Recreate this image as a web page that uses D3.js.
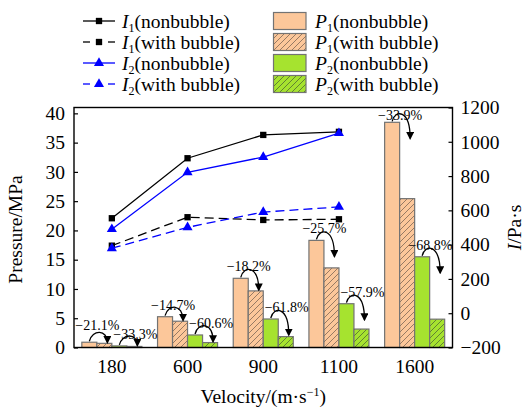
<!DOCTYPE html>
<html>
<head>
<meta charset="utf-8">
<script src="https://cdn.jsdelivr.net/npm/d3@7"></script>
<style>
  html, body { margin: 0; padding: 0; background: #fff; }
  svg { display: block; }
  svg text { font-family: "Liberation Serif", "Tinos", "Times New Roman", "DejaVu Serif", serif; fill: #000; }
</style>
</head>
<body>
<svg id="chart" width="532" height="411"></svg>
<script>
// Velocities (m/s) on the x axis
const categories = ["180", "600", "900", "1100", "1600"];

// Peak pressure P (MPa), left axis
const p1Non = [0.90, 5.26, 11.82, 18.3, 38.47];
const p1Bub = [0.71, 4.49, 9.67, 13.6, 25.43];
const p2Non = [0.27, 2.14, 4.87, 7.48, 15.5];
const p2Bub = [0.18, 0.84, 1.86, 3.15, 4.84];

// Relative change of pressure with bubble curtain (%)
const p1Change = [-21.1, -14.7, -18.2, -25.7, -33.9];
const p2Change = [-33.3, -60.6, -61.8, -57.9, -68.8];

// Impulse I (Pa·s), right axis — measured at the first four velocities
const lineCategories = ["180", "600", "900", "1100"];
const i1Non = [554, 904, 1040, 1058];
const i1Bub = [394, 560, 544, 548];
const i2Non = [490, 822, 911, 1050];
const i2Bub = [379, 501, 590, 620];

// Tick values
const pressureTicks = [0, 5, 10, 15, 20, 25, 30, 35, 40];
const impulseTicks = [-200, 0, 200, 400, 600, 800, 1000, 1200];

const SERIF = "'Liberation Serif', 'Tinos', 'Times New Roman', 'DejaVu Serif', serif";
const svg = d3.select("#chart");
const FONT = 19.5;
const plot = { left: 74, right: 452.5, top: 107.5, bottom: 347.5 };

const ORANGE = "#FCC79A", GREEN = "#A6E32F", BAR_STROKE = "#737373";

const x0 = d3.scaleBand().domain(categories)
  .range([plot.left, plot.right]).paddingInner(0.207).paddingOuter(0.1035);
const barKeys = ["p1n", "p1b", "p2n", "p2b"];
const x1 = d3.scaleBand().domain(barKeys).range([0, x0.bandwidth()]);
const yP = d3.scaleLinear().domain([0, 41]).range([plot.bottom, plot.top]);
const yI = d3.scaleLinear().domain([-200, 1200]).range([plot.bottom, plot.top]);

// ---- defs: hatch patterns and arrow head
const defs = svg.append("defs");
function hatch(id, bg, lineColor) {
  const p = defs.append("pattern").attr("id", id)
    .attr("patternUnits", "userSpaceOnUse").attr("width", 6).attr("height", 6);
  p.append("rect").attr("width", 6).attr("height", 6).attr("fill", bg);
  p.append("path").attr("d", "M0,6 L6,0 M-1.5,1.5 L1.5,-1.5 M4.5,7.5 L7.5,4.5")
    .attr("stroke", lineColor).attr("stroke-width", 0.8);
}
hatch("hatchOrange", ORANGE, "#7d6656");
hatch("hatchGreen", GREEN, "#4f6a32");
defs.append("marker").attr("id", "arrowHead")
  .attr("viewBox", "0 0 10 10").attr("refX", 8).attr("refY", 5)
  .attr("markerWidth", 8).attr("markerHeight", 8)
  .attr("markerUnits", "userSpaceOnUse").attr("orient", "auto")
  .append("path").attr("d", "M0,0 L10,5 L0,10 Z").attr("fill", "#000");

const fills = { p1n: ORANGE, p1b: "url(#hatchOrange)", p2n: GREEN, p2b: "url(#hatchGreen)" };
const series = { p1n: p1Non, p1b: p1Bub, p2n: p2Non, p2b: p2Bub };

// ---- bars
const barData = [];
categories.forEach((c, i) => barKeys.forEach(k => barData.push({ c, k, v: series[k][i] })));
svg.append("g").selectAll("rect").data(barData).join("rect")
  .attr("x", d => x0(d.c) + x1(d.k))
  .attr("y", d => yP(d.v))
  .attr("width", x1.bandwidth())
  .attr("height", d => yP(0) - yP(d.v))
  .attr("fill", d => fills[d.k])
  .attr("stroke", BAR_STROKE).attr("stroke-width", 1.2);

// ---- change annotations: label plus curved arrow from nonbubble to bubble bar
const fmt = d3.format(".1f");
const noteG = svg.append("g");
const bw = x1.bandwidth();
function drawNote(c, from, to, a, b, pct, dx, baseline) {
  const xs = x0(c) + x1(from) + bw / 2;
  const xe = x0(c) + x1(to) + bw / 2 + 3;
  const ys = yP(a) - 1;
  const ye = Math.min(yP(b) - 1, ys + 17);
  const path = d3.path();
  path.moveTo(xs, ys);
  path.bezierCurveTo(xs + 3, ys - 12, xe, ys - 12, xe, ye);
  noteG.append("path").attr("d", path.toString())
    .attr("fill", "none").attr("stroke", "#000").attr("stroke-width", 1.3)
    .attr("marker-end", "url(#arrowHead)");
  const lx = Math.min(xs + dx, plot.right - 22);
  noteG.append("text").attr("x", lx).attr("y", baseline)
    .attr("text-anchor", "middle").attr("font-size", 14)
    .attr("font-family", SERIF).text(fmt(pct) + "%");
}
categories.forEach((c, i) => {
  // P2 label sits just above its bar; the P1 label is lifted clear of it when needed
  const y2 = yP(p2Non[i]) - 7;
  const y1 = Math.max(Math.min(yP(p1Non[i]) - 7, y2 - 9), plot.top + 12);
  drawNote(c, "p1n", "p1b", p1Non[i], p1Bub[i], p1Change[i], 8, y1);
  drawNote(c, "p2n", "p2b", p2Non[i], p2Bub[i], p2Change[i], 16, y2);
});

// ---- impulse lines
const lineDefs = [
  { vals: i1Non, color: "#000", dash: null, marker: "square" },
  { vals: i1Bub, color: "#000", dash: "9,5", marker: "square" },
  { vals: i2Non, color: "#0000FF", dash: null, marker: "triangle" },
  { vals: i2Bub, color: "#0000FF", dash: "9,5", marker: "triangle" }
];
const cx = c => x0(c) + x0.bandwidth() / 2;
const lineGen = d3.line().x(d => cx(d.c)).y(d => yI(d.v));
const sym = {
  square: d3.symbol().type(d3.symbolSquare).size(40),
  triangle: d3.symbol().type(d3.symbolTriangle).size(44)
};
lineDefs.forEach(L => {
  const pts = lineCategories.map((c, i) => ({ c, v: L.vals[i] }));
  svg.append("path").datum(pts).attr("d", lineGen)
    .attr("fill", "none").attr("stroke", L.color).attr("stroke-width", 1.3)
    .attr("stroke-dasharray", L.dash);
  svg.append("g").selectAll("path").data(pts).join("path")
    .attr("d", sym[L.marker])
    .attr("transform", d => `translate(${cx(d.c)},${yI(d.v)})`)
    .attr("fill", L.color);
});

// ---- axes
const intFmt = d3.format("d");
const axisLeft = d3.axisLeft(yP).tickValues(pressureTicks).tickFormat(intFmt)
  .tickSizeInner(-4).tickSizeOuter(0).tickPadding(9);
const axisRight = d3.axisRight(yI).tickValues(impulseTicks).tickFormat(intFmt)
  .tickSizeInner(-4).tickSizeOuter(0).tickPadding(8);
const axisBottom = d3.axisBottom(x0).tickSize(0).tickPadding(12);

function styleAxis(g) {
  g.attr("font-family", SERIF);
  g.select(".domain").remove();
  g.selectAll("line").attr("stroke", "#000").attr("stroke-width", 1.2);
  g.selectAll("text").attr("font-size", FONT).attr("font-family", SERIF);
}
svg.append("g").attr("transform", `translate(${plot.left},0)`).call(axisLeft).call(styleAxis);
svg.append("g").attr("transform", `translate(${plot.right},0)`).call(axisRight).call(styleAxis);
svg.append("g").attr("transform", `translate(0,${plot.bottom})`).call(axisBottom).call(styleAxis);

// frame
svg.append("rect").attr("x", plot.left).attr("y", plot.top)
  .attr("width", plot.right - plot.left).attr("height", plot.bottom - plot.top)
  .attr("fill", "none").attr("stroke", "#000").attr("stroke-width", 1.4);

// ---- axis titles
svg.append("text").attr("transform", `translate(22,${(plot.top + plot.bottom) / 2 + 2}) rotate(-90)`)
  .attr("text-anchor", "middle").attr("font-size", FONT).attr("font-family", SERIF).text("Pressure/MPa");

const rt = svg.append("text")
  .attr("transform", `translate(521,${(plot.top + plot.bottom) / 2}) rotate(-90)`)
  .attr("text-anchor", "middle").attr("font-size", FONT).attr("font-family", SERIF);
rt.append("tspan").attr("font-style", "italic").text("I");
rt.append("tspan").text("/Pa·s");

const bt = svg.append("text").attr("x", (plot.left + plot.right) / 2).attr("y", 403)
  .attr("text-anchor", "middle").attr("font-size", FONT).attr("font-family", SERIF);
bt.append("tspan").text("Velocity/(m·s");
bt.append("tspan").attr("font-size", 12).attr("dy", -7).text("−1");
bt.append("tspan").attr("dy", 7).text(")");

// ---- legend
const legendLines = [
  { sym: "I", sub: "1", txt: "(nonbubble)", color: "#000", dash: false, marker: "square" },
  { sym: "I", sub: "1", txt: "(with bubble)", color: "#000", dash: true, marker: "square" },
  { sym: "I", sub: "2", txt: "(nonbubble)", color: "#0000FF", dash: false, marker: "triangle" },
  { sym: "I", sub: "2", txt: "(with bubble)", color: "#0000FF", dash: true, marker: "triangle" }
];
const legendBars = [
  { sym: "P", sub: "1", txt: "(nonbubble)", fill: ORANGE },
  { sym: "P", sub: "1", txt: "(with bubble)", fill: "url(#hatchOrange)" },
  { sym: "P", sub: "2", txt: "(nonbubble)", fill: GREEN },
  { sym: "P", sub: "2", txt: "(with bubble)", fill: "url(#hatchGreen)" }
];
const rowY = [21, 42, 63, 84];

function legendText(g, x, y, item) {
  const t = g.append("text").attr("x", x).attr("y", y + 6.5)
    .attr("font-size", FONT).attr("font-family", SERIF);
  t.append("tspan").attr("font-style", "italic").text(item.sym);
  t.append("tspan").attr("font-size", 12).attr("dy", 4).text(item.sub);
  t.append("tspan").attr("dy", -4).text(item.txt);
}
const lg = svg.append("g");
legendLines.forEach((d, i) => {
  const y = rowY[i];
  if (d.dash) {
    lg.append("line").attr("x1", 83).attr("x2", 90).attr("y1", y).attr("y2", y)
      .attr("stroke", d.color).attr("stroke-width", 1.3);
    lg.append("line").attr("x1", 108).attr("x2", 115).attr("y1", y).attr("y2", y)
      .attr("stroke", d.color).attr("stroke-width", 1.3);
  } else {
    lg.append("line").attr("x1", 83).attr("x2", 115).attr("y1", y).attr("y2", y)
      .attr("stroke", d.color).attr("stroke-width", 1.3);
  }
  lg.append("path").attr("d", sym[d.marker]).attr("transform", `translate(99,${y})`).attr("fill", d.color);
  legendText(lg, 122, y, d);
});
legendBars.forEach((d, i) => {
  const y = rowY[i];
  lg.append("rect").attr("x", 273.5).attr("y", y - 8.5).attr("width", 32.5).attr("height", 17)
    .attr("fill", d.fill).attr("stroke", BAR_STROKE).attr("stroke-width", 1.2);
  legendText(lg, 315, y, d);
});
</script>
</body>
</html>
